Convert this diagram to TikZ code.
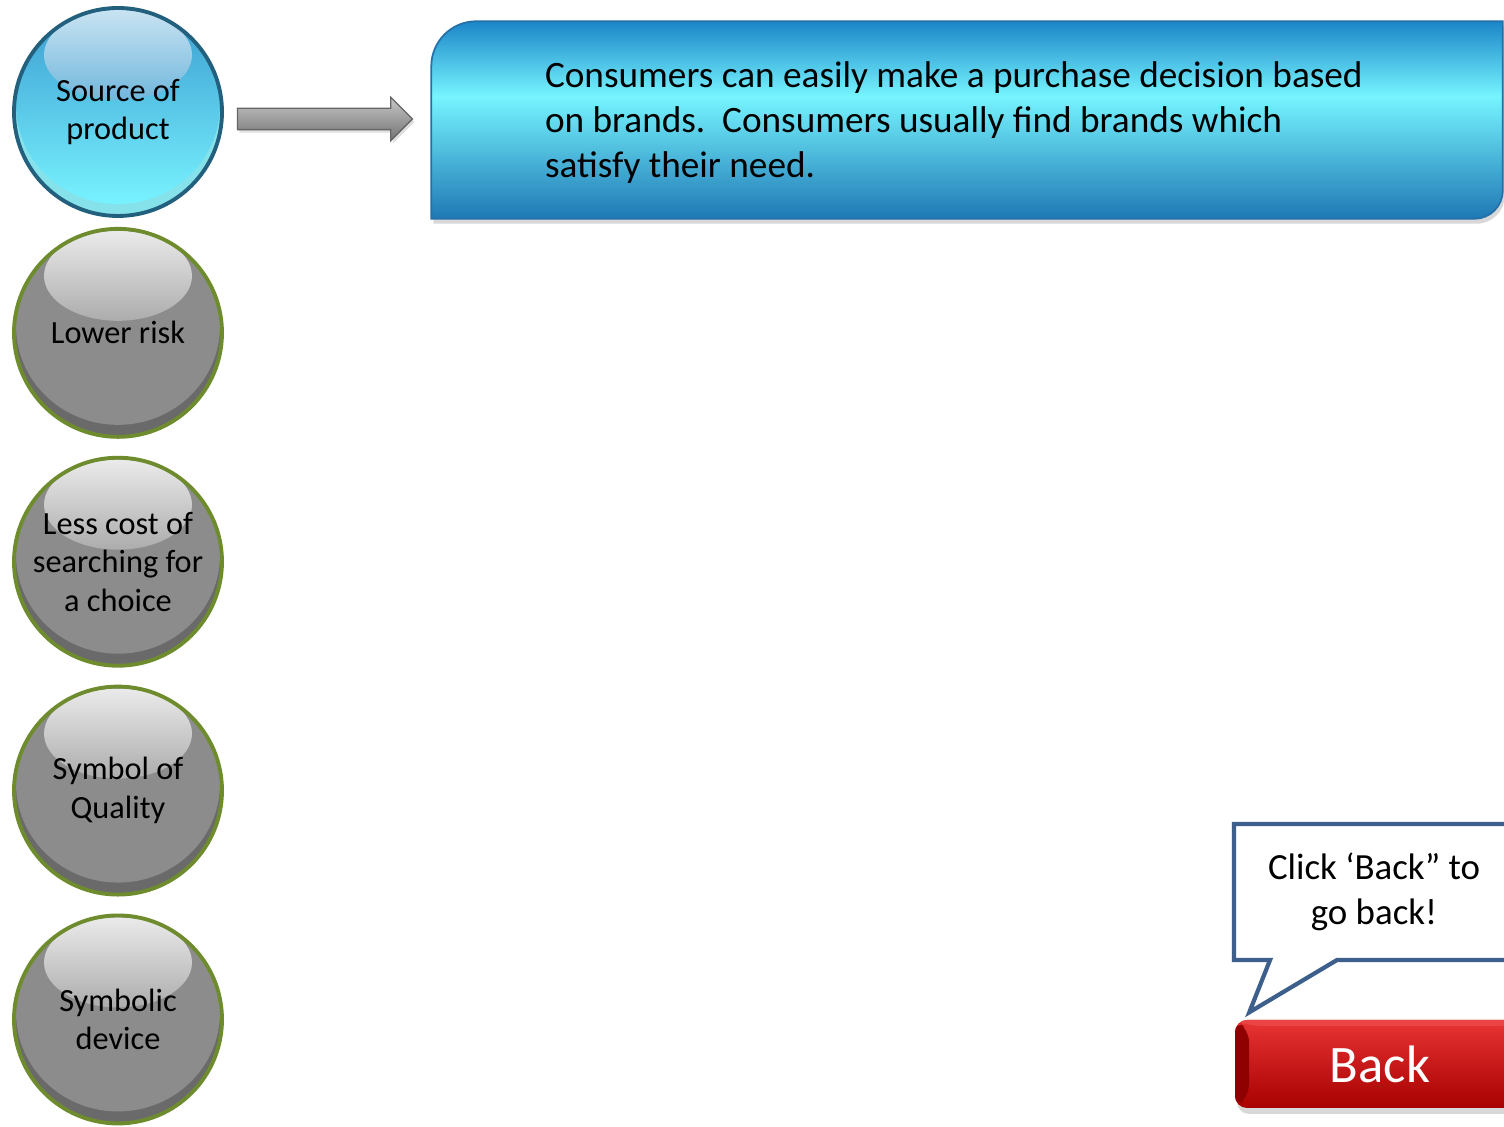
\documentclass[tikz,border=0pt]{standalone}
\usepackage{fontspec}
\setmainfont{Carlito}
\usepackage{tikz}
\usetikzlibrary{shapes.arrows,shapes.callouts,positioning,calc,shadows}

\definecolor{bluetop}{HTML}{3A9BCF}
\definecolor{bluebot}{HTML}{78F2FF}
\definecolor{bluelow}{HTML}{86E2EA}
\definecolor{blueedge}{HTML}{22607E}
\definecolor{greybase}{HTML}{8C8C8C}
\definecolor{greylow}{HTML}{6A6A6A}
\definecolor{greyedge}{HTML}{6E8C2E}
\definecolor{infotop}{HTML}{1C86C8}
\definecolor{infomid}{HTML}{76F4FF}
\definecolor{infobot}{HTML}{1F78B4}
\definecolor{infoedge}{HTML}{2470A8}
\definecolor{hintedge}{HTML}{3C5F8C}
\definecolor{backtop}{HTML}{E83434}
\definecolor{backmid}{HTML}{C80606}
\definecolor{backbot}{HTML}{A80000}

\pgfdeclareverticalshading{infoshade}{100bp}{color(0bp)=(infobot); color(25bp)=(infobot);
  color(56bp)=(infomid); color(75bp)=(infotop); color(100bp)=(infotop)}

\tikzset{
  bubble/.style n args={5}{circle, minimum size=2.08cm, inner sep=0pt,
               draw=#5, line width=1.1pt, align=center,
               font=\fontsize{9.2}{11}\selectfont,
               path picture={
                 \fill[#3] (path picture bounding box.center) circle (1.1cm);
                 \shade[top color=#1, bottom color=#2]
                   ([yshift=0.07cm]path picture bounding box.center) ellipse (1.02cm and 0.99cm);
                 \shade[top color=#4, bottom color=#1!72!white]
                   ([yshift=0.57cm]path picture bounding box.center) ellipse (0.74cm and 0.45cm);
               }},
  srcbubble/.style={bubble={bluetop}{bluebot}{bluelow}{white!72!bluetop}{blueedge}},
  greybubble/.style={bubble={greybase}{greybase}{greylow}{white!82!greybase}{greyedge}},
  blockarrow/.style={single arrow, draw=black!60, top color=black!22, bottom color=black!55,
               minimum height=1.75cm, minimum width=0.42cm, inner sep=0.1cm,
               single arrow head extend=0.11cm,
               drop shadow={shadow xshift=0.02cm, shadow yshift=-0.03cm, opacity=0.25}},
  infobox/.style={shade, shading=infoshade, draw=infoedge, line width=0.5pt,
               drop shadow={shadow xshift=0.02cm, shadow yshift=-0.05cm, opacity=0.3}},
  infotext/.style={align=left, inner sep=0pt, font=\fontsize{10.6}{12.8}\selectfont},
  hintbox/.style={rectangle callout, draw=hintedge, line width=1.2pt, fill=white,
               minimum width=2.80cm, minimum height=1.36cm, align=center,
               callout pointer width=0.67cm, font=\fontsize{10.5}{12.6}\selectfont},
  backbtn/.style={rectangle, rounded corners=0.12cm, minimum width=2.90cm, minimum height=0.88cm,
               top color=backtop, middle color=backmid, bottom color=backbot,
               text=white, font=\fontsize{15}{18}\selectfont,
               drop shadow={shadow xshift=0.02cm, shadow yshift=-0.06cm, opacity=0.3},
               path picture={
                 \fill[backbot!85!black]
                   (path picture bounding box.south west) -- ++(0.14,0.12)
                   -- ([xshift=0.14cm,yshift=-0.1cm]path picture bounding box.north west)
                   -- (path picture bounding box.north west) -- cycle;
                 \fill[backtop!92!white]
                   (path picture bounding box.north west) -- ++(0.14,-0.06)
                   -- ([xshift=-0.14cm,yshift=-0.06cm]path picture bounding box.north east)
                   -- (path picture bounding box.north east) -- cycle;
               }},
}

\begin{document}
\begin{tikzpicture}

\clip (0,0) rectangle (15.04,11.27);
\fill[white] (0,0) rectangle (15.04,11.27);

% ── Bubbles (left column) ──────────────────────────────────
\node[srcbubble] (src) at (1.18,10.15) {Source of\\product};
\node[greybubble, below=0.09cm of src] (risk) {Lower risk};
\node[greybubble, below=0.17cm of risk] (cost) {Less cost of\\searching for\\a choice};
\node[greybubble, below=0.17cm of cost] (quality) {Symbol of\\Quality};
\node[greybubble, below=0.17cm of quality] (symbolic) {Symbolic\\device};

% ── Explanation box (top) ──────────────────────────────────
\node[minimum width=10.70cm, minimum height=1.96cm, inner sep=0pt] (box) at (9.67,10.07) {};
\path[infobox] (box.south west) -- ([yshift=-0.45cm]box.north west)
      arc[start angle=180, end angle=90, radius=0.45cm] -- (box.north east)
      -- ([yshift=0.28cm]box.south east)
      arc[start angle=0, end angle=-90, radius=0.28cm] -- cycle;
\node[infotext, anchor=west] (infotxt) at ([xshift=1.13cm,yshift=-0.03cm]box.west)
      {Consumers can easily make a purchase decision based\\
       on brands.\ \ Consumers usually find brands which\\
       satisfy their need.};

% ── Block arrow ────────────────────────────────────────────
\node[blockarrow] (arr) at ($(src.east)!0.5!(box.west)+(-0.08,-0.03)$) {};

% ── Back button and hint (bottom right) ────────────────────
\node[backbtn] (back) at (13.80,0.63) {Back};
\node[hintbox, callout absolute pointer={([xshift=0.15cm,yshift=0.07cm]back.north west)}]
      (hint) at (13.74,2.35) {Click ‘Back” to\\go back!};

\end{tikzpicture}
\end{document}
